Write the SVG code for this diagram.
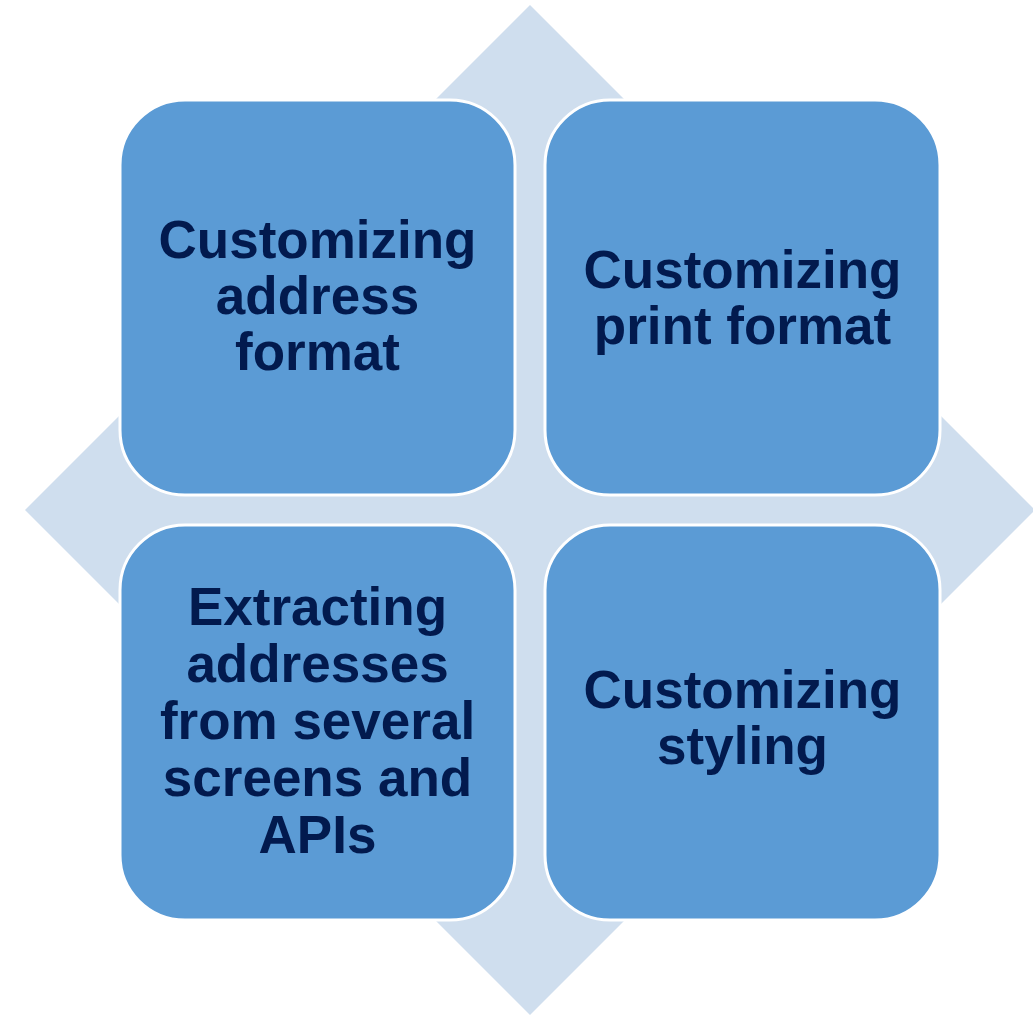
<svg xmlns="http://www.w3.org/2000/svg" width="1033" height="1016" viewBox="0 0 1033 1016">
<style>
.box{fill:#5B9BD5;stroke:#FFFFFF;stroke-width:3}
.lbl{font-family:"Liberation Sans",Arial,sans-serif;font-weight:bold;font-size:53px;fill:#021A4E;text-anchor:middle}
</style>
<rect width="1033" height="1016" fill="#FFFFFF"/>
<g id="background">
<polygon points="530,5 1035,510 530,1015 25,510" fill="#CFDEEE"/>
</g>
<g id="connectors"></g>
<g id="node-address-format">
<rect class="box" x="120" y="100" width="395" height="395" rx="65" ry="65"/>
<text class="lbl" x="317.5"><tspan x="317.5" y="258">Customizing</tspan><tspan x="317.5" y="314">address</tspan><tspan x="317.5" y="370">format</tspan></text>
</g>
<g id="node-print-format">
<rect class="box" x="545" y="100" width="395" height="395" rx="65" ry="65"/>
<text class="lbl" x="742.5"><tspan x="742.5" y="288">Customizing</tspan><tspan x="742.5" y="344">print format</tspan></text>
</g>
<g id="node-extracting">
<rect class="box" x="120" y="525" width="395" height="395" rx="65" ry="65"/>
<text class="lbl" x="317.5"><tspan x="317.5" y="625">Extracting</tspan><tspan x="317.5" y="682">addresses</tspan><tspan x="317.5" y="739">from several</tspan><tspan x="317.5" y="796">screens and</tspan><tspan x="317.5" y="853">APIs</tspan></text>
</g>
<g id="node-styling">
<rect class="box" x="545" y="525" width="395" height="395" rx="65" ry="65"/>
<text class="lbl" x="742.5"><tspan x="742.5" y="708">Customizing</tspan><tspan x="742.5" y="764">styling</tspan></text>
</g>
</svg>
